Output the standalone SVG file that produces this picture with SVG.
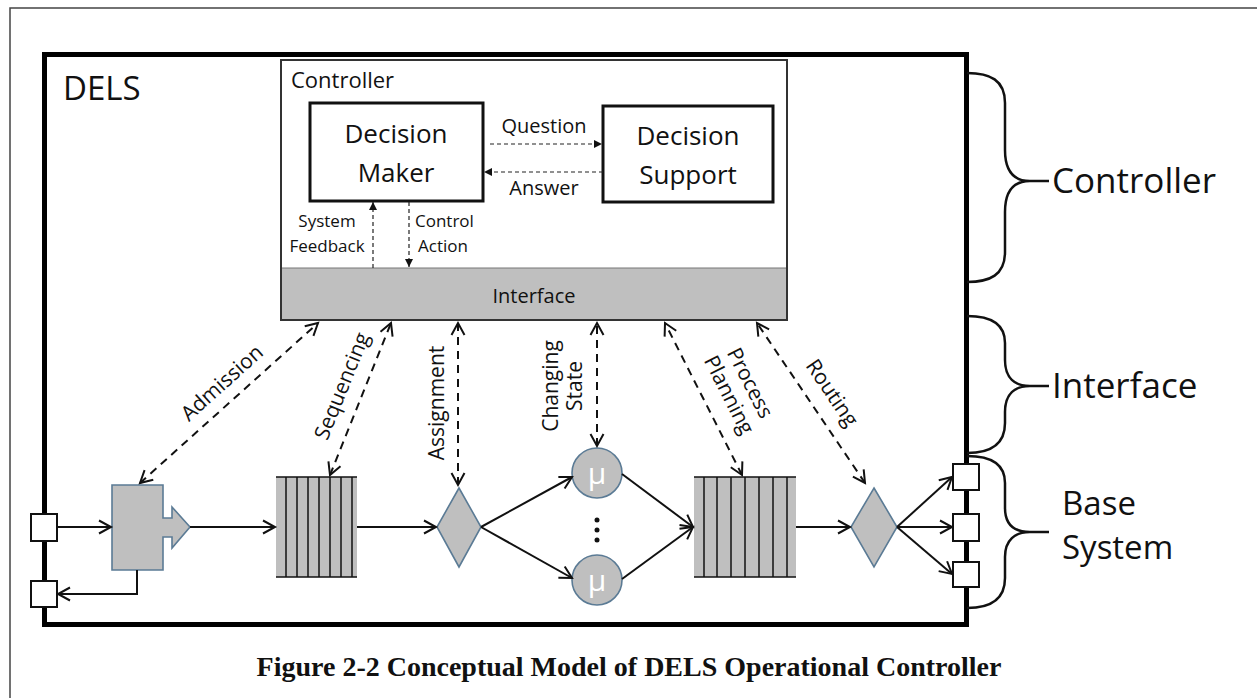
<svg xmlns="http://www.w3.org/2000/svg" width="1257" height="698" viewBox="0 0 1257 698">
<style>
text{font-family:"Open Sans","Liberation Sans",sans-serif;fill:#111}
.g{fill:#bfbfbf;stroke:#5b7b95;stroke-width:1.6}
.box{fill:#fff;stroke:#111;stroke-width:3}
.port{fill:#fff;stroke:#111;stroke-width:2}
.sol{fill:none;stroke:#111;stroke-width:2;marker-end:url(#open)}
.dash{fill:none;stroke:#111;stroke-width:2;stroke-dasharray:8 6;marker-start:url(#open);marker-end:url(#open)}
.sd{fill:none;stroke:#222;stroke-width:1.2;stroke-dasharray:4 3;marker-end:url(#tri)}
.brace{fill:none;stroke:#111;stroke-width:2.5}
.ql{stroke:#111;stroke-width:1.5}
</style>
<defs>
<marker id="open" markerUnits="userSpaceOnUse" markerWidth="16" markerHeight="16" refX="13" refY="8" orient="auto-start-reverse">
<path d="M1,1.5 L13,8 L1,14.5" fill="none" stroke="#111" stroke-width="2"/>
</marker>
<marker id="tri" markerUnits="userSpaceOnUse" markerWidth="9" markerHeight="9" refX="8" refY="4" orient="auto">
<path d="M0,0 L8,4 L0,8 Z" fill="#111"/>
</marker>
</defs>
<rect x="0" y="0" width="1257" height="698" fill="#fff"/>
<path d="M10,698 V8 H1257" fill="none" stroke="#444" stroke-width="1.5"/>

<g id="dels">
<rect x="44.5" y="54.5" width="922" height="570" fill="none" stroke="#000" stroke-width="5"/>
<text x="63" y="100" font-size="33">DELS</text>
</g>

<g id="controller">
<rect x="281" y="60" width="506" height="260" fill="#fff" stroke="#333" stroke-width="2"/>
<rect x="282" y="268" width="504" height="51" fill="#bfbfbf"/>
<line x1="282" y1="268" x2="786" y2="268" stroke="#777" stroke-width="1"/>
<text x="291" y="88" font-size="22">Controller</text>
<text x="534" y="303" font-size="20" text-anchor="middle">Interface</text>
</g>

<g id="decision-maker">
<rect class="box" x="310" y="103" width="173" height="98"/>
<text x="396" y="143" font-size="26" text-anchor="middle">Decision</text>
<text x="396" y="182" font-size="26" text-anchor="middle">Maker</text>
</g>

<g id="decision-support">
<rect class="box" x="603" y="106" width="170" height="96"/>
<text x="688" y="145" font-size="26" text-anchor="middle">Decision</text>
<text x="688" y="184" font-size="26" text-anchor="middle">Support</text>
</g>

<g id="controller-labels">
<text x="544" y="133" font-size="20" text-anchor="middle">Question</text>
<text x="544" y="195" font-size="20" text-anchor="middle">Answer</text>
<text x="327" y="227" font-size="17" text-anchor="middle">System</text>
<text x="327" y="252" font-size="17" text-anchor="middle">Feedback</text>
<text x="415" y="227" font-size="17">Control</text>
<text x="418" y="252" font-size="17">Action</text>
</g>

<g id="ports">
<rect class="port" x="31" y="514" width="26" height="27"/>
<rect class="port" x="31" y="581" width="26" height="26"/>
<rect class="port" x="953" y="464" width="26" height="26"/>
<rect class="port" x="953" y="514" width="26" height="27"/>
<rect class="port" x="953" y="562" width="26" height="25"/>
</g>

<g id="admission-node">
<path class="g" d="M112,485 H163 V518 H172 V507 L190,527 L172,548 V537 H163 V570 H112 Z"/>
</g>

<g id="queue-1">
<rect x="276" y="477" width="81" height="100" fill="#bfbfbf"/>
<line class="ql" x1="276" y1="477" x2="357" y2="477"/>
<line class="ql" x1="276" y1="577" x2="357" y2="577"/>
<line class="ql" x1="286" y1="477" x2="286" y2="577"/>
<line class="ql" x1="297" y1="477" x2="297" y2="577"/>
<line class="ql" x1="308" y1="477" x2="308" y2="577"/>
<line class="ql" x1="319" y1="477" x2="319" y2="577"/>
<line class="ql" x1="330" y1="477" x2="330" y2="577"/>
<line class="ql" x1="341" y1="477" x2="341" y2="577"/>
<line class="ql" x1="352" y1="477" x2="352" y2="577"/>
</g>

<g id="assignment-node">
<path class="g" d="M459,488 L481,527 L459,567 L437,527 Z"/>
</g>

<g id="server-1">
<circle class="g" cx="597" cy="473" r="25"/>
<text x="597" y="484" font-size="30" text-anchor="middle" style="fill:#fff">μ</text>
</g>
<g id="server-n">
<circle class="g" cx="597" cy="580" r="25"/>
<text x="597" y="591" font-size="30" text-anchor="middle" style="fill:#fff">μ</text>
</g>
<g id="ellipsis">
<circle cx="597" cy="520" r="2.5" fill="#111"/>
<circle cx="597" cy="530" r="2.5" fill="#111"/>
<circle cx="597" cy="540" r="2.5" fill="#111"/>
</g>

<g id="queue-2">
<rect x="694" y="477" width="102" height="100" fill="#bfbfbf"/>
<line class="ql" x1="694" y1="477" x2="796" y2="477"/>
<line class="ql" x1="694" y1="577" x2="796" y2="577"/>
<line class="ql" x1="704" y1="477" x2="704" y2="577"/>
<line class="ql" x1="717" y1="477" x2="717" y2="577"/>
<line class="ql" x1="731" y1="477" x2="731" y2="577"/>
<line class="ql" x1="745" y1="477" x2="745" y2="577"/>
<line class="ql" x1="759" y1="477" x2="759" y2="577"/>
<line class="ql" x1="773" y1="477" x2="773" y2="577"/>
<line class="ql" x1="787" y1="477" x2="787" y2="577"/>
</g>

<g id="routing-node">
<path class="g" d="M874,488 L897,527 L874,567 L851,527 Z"/>
</g>

<g id="connectors">
<path class="sd" d="M490,144 H602"/>
<path class="sd" d="M603,172 H484"/>
<path class="sd" d="M373,268 V202"/>
<path class="sd" d="M409,202 V267"/>
<path class="sol" d="M57,527 H111"/>
<path class="sol" d="M137,570 V594 H58"/>
<path class="sol" d="M190,527 H275"/>
<path class="sol" d="M357,527 H436"/>
<path class="sol" d="M481,527 L572,477"/>
<path class="sol" d="M481,527 L572,578"/>
<path class="sol" d="M622,474 L693,527"/>
<path class="sol" d="M622,579 L693,527"/>
<path class="sol" d="M796,527 H850"/>
<path class="sol" d="M897,527 L952,477"/>
<path class="sol" d="M897,527 H952"/>
<path class="sol" d="M897,527 L952,574"/>
<path class="dash" d="M140,483 L318,323"/>
<path class="dash" d="M330,475 L391,323"/>
<path class="dash" d="M458,485 V323"/>
<path class="dash" d="M597,446 V323"/>
<path class="dash" d="M742,475 L665,323"/>
<path class="dash" d="M865,483 L757,323"/>
</g>

<g id="flow-labels" font-size="21">
<text transform="translate(222,383) rotate(-42)" y="7" text-anchor="middle">Admission</text>
<text transform="translate(342,386) rotate(-68)" y="7" text-anchor="middle">Sequencing</text>
<text transform="translate(437,403) rotate(-90)" y="7" text-anchor="middle">Assignment</text>
<text transform="translate(551,386) rotate(-90)" y="7" text-anchor="middle">Changing</text>
<text transform="translate(575,386) rotate(-90)" y="7" text-anchor="middle">State</text>
<text transform="translate(750,383) rotate(63)" y="7" text-anchor="middle">Process</text>
<text transform="translate(729,395) rotate(63)" y="7" text-anchor="middle">Planning</text>
<text transform="translate(832,393) rotate(56)" y="7" text-anchor="middle">Routing</text>
</g>

<g id="brace-controller">
<path class="brace" d="M967,73 C990,73 1005,80 1005,103 V150 C1005,172 1015,181 1030,181 H1049 M1030,181 C1015,181 1005,190 1005,212 V252 C1005,275 990,282 967,282"/>
<text x="1052" y="193" font-size="35">Controller</text>
</g>
<g id="brace-interface">
<path class="brace" d="M967,316 C990,316 1005,323 1005,343 V360 C1005,378 1015,386 1030,386 H1049 M1030,386 C1015,386 1005,394 1005,412 V423 C1005,445 990,453 967,453"/>
<text x="1052" y="398" font-size="35">Interface</text>
</g>
<g id="brace-base">
<path class="brace" d="M967,456 C990,456 1005,463 1005,483 V508 C1005,525 1015,532 1030,532 H1049 M1030,532 C1015,532 1005,540 1005,557 V578 C1005,600 990,608 967,608"/>
<text x="1062" y="515" font-size="33">Base</text>
<text x="1062" y="559" font-size="33">System</text>
</g>

<text x="629" y="676" font-weight="bold" font-size="28" text-anchor="middle" style="font-family:'Liberation Serif',serif">Figure 2-2 Conceptual Model of DELS Operational Controller</text>
</svg>
